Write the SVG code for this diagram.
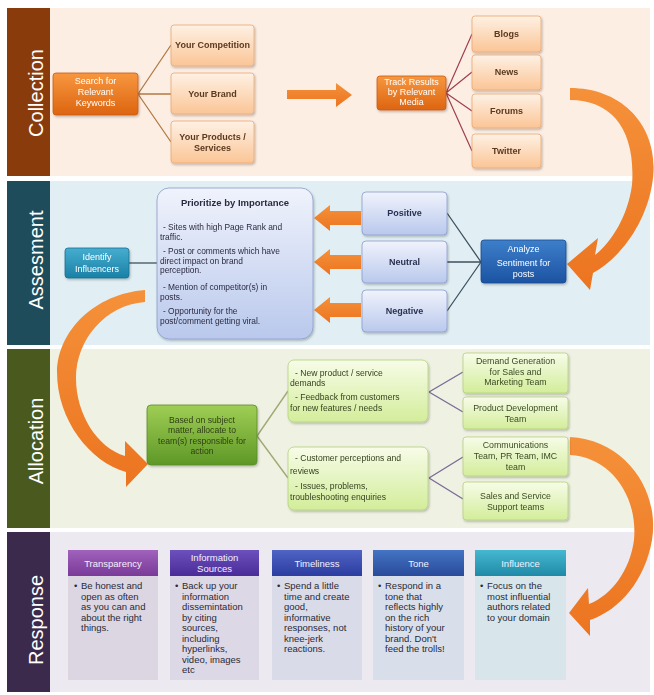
<svg xmlns="http://www.w3.org/2000/svg" width="654" height="695" viewBox="0 0 654 695">
<defs>
<linearGradient id="gOrange" x1="0" y1="0" x2="0" y2="1"><stop offset="0" stop-color="#f7973f"/><stop offset="1" stop-color="#dd6410"/></linearGradient>
<linearGradient id="gPeach" x1="0" y1="0" x2="0" y2="1"><stop offset="0" stop-color="#fef1e4"/><stop offset="1" stop-color="#fbc596"/></linearGradient>
<linearGradient id="gBlueL" x1="0" y1="0" x2="0" y2="1"><stop offset="0" stop-color="#f0f3fc"/><stop offset="1" stop-color="#b9c8ec"/></linearGradient>
<linearGradient id="gBlueD" x1="0" y1="0" x2="0" y2="1"><stop offset="0" stop-color="#3d7fca"/><stop offset="1" stop-color="#1c53a2"/></linearGradient>
<linearGradient id="gTeal" x1="0" y1="0" x2="0" y2="1"><stop offset="0" stop-color="#45aed0"/><stop offset="1" stop-color="#1a80a6"/></linearGradient>
<linearGradient id="gGreen" x1="0" y1="0" x2="0" y2="1"><stop offset="0" stop-color="#9fce55"/><stop offset="1" stop-color="#5e9826"/></linearGradient>
<linearGradient id="gGreenL" x1="0" y1="0" x2="0" y2="1"><stop offset="0" stop-color="#f7fce8"/><stop offset="1" stop-color="#d3ed9a"/></linearGradient>
<linearGradient id="gArrow" x1="0" y1="0" x2="0" y2="1"><stop offset="0" stop-color="#f5913a"/><stop offset="1" stop-color="#ec7420"/></linearGradient>
<linearGradient id="hTr" x1="0" y1="0" x2="0" y2="1"><stop offset="0" stop-color="#a062bc"/><stop offset="1" stop-color="#7a3a98"/></linearGradient>
<linearGradient id="hIn" x1="0" y1="0" x2="0" y2="1"><stop offset="0" stop-color="#6c50bc"/><stop offset="1" stop-color="#4a2c98"/></linearGradient>
<linearGradient id="hTi" x1="0" y1="0" x2="0" y2="1"><stop offset="0" stop-color="#4f64c4"/><stop offset="1" stop-color="#2c3ca0"/></linearGradient>
<linearGradient id="hTo" x1="0" y1="0" x2="0" y2="1"><stop offset="0" stop-color="#4474c4"/><stop offset="1" stop-color="#2a4a9a"/></linearGradient>
<linearGradient id="hIf" x1="0" y1="0" x2="0" y2="1"><stop offset="0" stop-color="#46b8d0"/><stop offset="1" stop-color="#1f8aa8"/></linearGradient>
<filter id="sh" x="-10%" y="-10%" width="125%" height="130%"><feDropShadow dx="1" dy="1.5" stdDeviation="1" flood-color="#000" flood-opacity="0.25"/></filter>
<style>
text{font-family:"Liberation Sans",Arial,sans-serif}
.side{font-size:20px;fill:#ffffff;text-anchor:middle}
.wt{fill:#ffffff;font-size:9px;text-anchor:middle}
.pk{fill:#5a3a20;font-size:9px;font-weight:bold;text-anchor:middle}
.bt{fill:#2a2a40;font-size:8.4px}
.bl{fill:#2a3050;font-size:9px;font-weight:bold;text-anchor:middle}
.gt{fill:#2f3f14;font-size:8.6px;text-anchor:middle}
.lg{fill:#34401f;font-size:8.6px}
.lgc{fill:#3a4a22;font-size:8.8px;text-anchor:middle}
.rh{fill:#f4f0ff;font-size:9.5px;text-anchor:middle}
.rb{fill:#2a2a38;font-size:9.5px}
.peach{fill:url(#gPeach);stroke:#eaa872;stroke-width:0.8}
.org{fill:url(#gOrange);stroke:#c95a12;stroke-width:0.8}
.lb{fill:url(#gBlueL);stroke:#8a9ccc;stroke-width:0.8}
.lgb{fill:url(#gGreenL);stroke:#b2d27c;stroke-width:0.8}
.arr{fill:url(#gArrow)}
.c1{stroke:#b37a44;stroke-width:1.3;fill:none}
.c2{stroke:#a0404e;stroke-width:1.2;fill:none}
.c3{stroke:#3e5260;stroke-width:1.3;fill:none}
.c4{stroke:#a3a874;stroke-width:1.4;fill:none}
.c5{stroke:#7c6c98;stroke-width:1.4;fill:none}
</style>
</defs>
<rect x="0" y="0" width="654" height="695" fill="#ffffff"/>
<g id="bands">
<rect x="50" y="8" width="600" height="168" fill="#fdeee3"/>
<rect x="7" y="8" width="43" height="168" fill="#8a3b0b"/>
<rect x="50" y="181" width="600" height="164" fill="#e1eff4"/>
<rect x="7" y="181" width="43" height="164" fill="#1e4c5b"/>
<rect x="50" y="349" width="600" height="179" fill="#eff2e3"/>
<rect x="7" y="349" width="43" height="179" fill="#4a5a1f"/>
<rect x="50" y="532" width="600" height="160" fill="#ece9f0"/>
<rect x="7" y="532" width="43" height="160" fill="#3b2a4b"/>
<text class="side" transform="translate(43,93) rotate(-90)">Collection</text>
<text class="side" transform="translate(43,260) rotate(-90)">Assesment</text>
<text class="side" transform="translate(43,441) rotate(-90)">Allocation</text>
<text class="side" transform="translate(43,620) rotate(-90)">Response</text>
</g>
<g id="connectors">
<path class="c1" d="M138,94 L171,45 M138,94 L171,94 M138,94 L171,142"/>
<path class="c2" d="M446,93 L472,34 M446,93 L472,72 M446,93 L472,111 M446,93 L472,151"/>
<path class="c3" d="M129,263 L157,263"/>
<path class="c3" d="M481,262 L447,213 M481,262 L447,262 M481,262 L447,311"/>
<path class="c4" d="M257,436 L288,391 M257,436 L288,478"/>
<path class="c5" d="M429,392 L463,372 M429,392 L463,412 M429,478 L463,457 M429,478 L463,499"/>
<path class="arr" d="M287,90 H336 V83 L352,95 L336,107 V99 H287 Z"/>
<path class="arr" d="M361,211 H330 V205 L314,218 L330,231 V225 H361 Z"/>
<path class="arr" d="M361,255 H330 V249 L314,262 L330,275 V269 H361 Z"/>
<path class="arr" d="M361,303 H330 V297 L314,310 L330,323 V317 H361 Z"/>
<path class="arr" d="M570,88 C625,88 662,130 652,185 C645,225 620,258 593,273 L590,290 L567,264 L598,238 L595,255 C612,242 628,215 632,185 C636,130 612,100 570,100 Z"/>
<path class="arr" d="M145,290 C95,294 58,330 57,372 C57,420 90,462 126,472 L126,487 L148,464 L125,441 L125,456 C98,448 76,415 76,378 C76,340 105,305 145,302 Z"/>
<path class="arr" d="M570,437 C625,440 660,490 652,540 C645,580 620,610 590,620 L590,636 L569,613 L588,588 L589,604 C612,595 630,570 634,540 C638,495 610,457 570,455 Z"/>
</g>
<g id="search" filter="url(#sh)"><rect class="org" x="53" y="73" width="85" height="42" rx="3"/>
<text class="wt" x="95.5" y="84">Search for</text><text class="wt" x="95.5" y="95">Relevant</text><text class="wt" x="95.5" y="106">Keywords</text></g>
<g id="competition" filter="url(#sh)"><rect class="peach" x="171" y="25" width="83" height="41" rx="3"/><text class="pk" x="212.5" y="48">Your Competition</text></g>
<g id="brand" filter="url(#sh)"><rect class="peach" x="171" y="73" width="83" height="41" rx="3"/><text class="pk" x="212.5" y="97">Your Brand</text></g>
<g id="products" filter="url(#sh)"><rect class="peach" x="171" y="121" width="83" height="42" rx="3"/><text class="pk" x="212.5" y="140">Your Products /</text><text class="pk" x="212.5" y="151">Services</text></g>
<g id="track" filter="url(#sh)"><rect class="org" x="377" y="76" width="69" height="34" rx="3"/>
<text class="wt" x="411.5" y="85">Track Results</text><text class="wt" x="411.5" y="95">by Relevant</text><text class="wt" x="411.5" y="105">Media</text></g>
<g id="blogs" filter="url(#sh)"><rect class="peach" x="472" y="16" width="69" height="36" rx="3"/><text class="pk" x="506.5" y="37">Blogs</text></g>
<g id="news" filter="url(#sh)"><rect class="peach" x="472" y="55" width="69" height="35" rx="3"/><text class="pk" x="506.5" y="75">News</text></g>
<g id="forums" filter="url(#sh)"><rect class="peach" x="472" y="94" width="69" height="34" rx="3"/><text class="pk" x="506.5" y="114">Forums</text></g>
<g id="twitter" filter="url(#sh)"><rect class="peach" x="472" y="134" width="69" height="34" rx="3"/><text class="pk" x="506.5" y="154">Twitter</text></g>
<g id="identify" filter="url(#sh)"><rect x="65" y="248" width="64" height="30" rx="3" fill="url(#gTeal)" stroke="#187090" stroke-width="0.8"/>
<text class="wt" x="97" y="260">Identify</text><text class="wt" x="97" y="272">Influencers</text></g>
<g id="prioritize" filter="url(#sh)"><rect class="lb" x="157" y="188" width="156" height="151" rx="12"/>
<text x="235" y="206" style="font-size:9.5px;font-weight:bold;fill:#2a2a40;text-anchor:middle">Prioritize by Importance</text>
<text class="bt" x="163" y="230">- Sites with high Page Rank and</text>
<text class="bt" x="160" y="239.5">traffic.</text>
<text class="bt" x="163" y="254">- Post or comments which have</text>
<text class="bt" x="160" y="263.5">direct impact on brand</text>
<text class="bt" x="160" y="273">perception.</text>
<text class="bt" x="163" y="290">- Mention of competitor(s) in</text>
<text class="bt" x="160" y="299.5">posts.</text>
<text class="bt" x="163" y="314">- Opportunity for the</text>
<text class="bt" x="160" y="323.5">post/comment getting viral.</text></g>
<g id="positive" filter="url(#sh)"><rect class="lb" x="362" y="192" width="85" height="43" rx="4"/><text class="bl" x="404.5" y="216">Positive</text></g>
<g id="neutral" filter="url(#sh)"><rect class="lb" x="362" y="241" width="85" height="42" rx="4"/><text class="bl" x="404.5" y="265">Neutral</text></g>
<g id="negative" filter="url(#sh)"><rect class="lb" x="362" y="290" width="85" height="42" rx="4"/><text class="bl" x="404.5" y="314">Negative</text></g>
<g id="analyze" filter="url(#sh)"><rect x="481" y="240" width="85" height="43" rx="3" fill="url(#gBlueD)" stroke="#174a90" stroke-width="0.8"/>
<text class="wt" x="523.5" y="252">Analyze</text><text class="wt" x="523.5" y="266">Sentiment for</text><text class="wt" x="523.5" y="277">posts</text></g>
<g id="based" filter="url(#sh)"><rect x="147" y="405" width="110" height="60" rx="4" fill="url(#gGreen)" stroke="#5a8a26" stroke-width="0.8"/>
<text class="gt" x="202" y="423">Based on subject</text><text class="gt" x="202" y="433">matter, allocate to</text><text class="gt" x="202" y="444">team(s) responsible for</text><text class="gt" x="202" y="454">action</text></g>
<g id="productlist" filter="url(#sh)"><rect class="lgb" x="288" y="360" width="140" height="62" rx="6"/>
<text class="lg" x="295" y="376">- New product / service</text><text class="lg" x="290" y="385.5">demands</text>
<text class="lg" x="295" y="400">- Feedback from customers</text><text class="lg" x="290" y="411">for new features / needs</text></g>
<g id="perceptionlist" filter="url(#sh)"><rect class="lgb" x="288" y="447" width="140" height="63" rx="6"/>
<text class="lg" x="295" y="461">- Customer perceptions and</text><text class="lg" x="290" y="474">reviews</text>
<text class="lg" x="295" y="489">-  Issues, problems,</text><text class="lg" x="290" y="499.5">troubleshooting enquiries</text></g>
<g id="demandgen" filter="url(#sh)"><rect class="lgb" x="463" y="353" width="105" height="40" rx="3"/>
<text class="lgc" x="515.5" y="364">Demand Generation</text><text class="lgc" x="515.5" y="374.5">for Sales and</text><text class="lgc" x="515.5" y="385">Marketing Team</text></g>
<g id="productdev" filter="url(#sh)"><rect class="lgb" x="463" y="397" width="105" height="32" rx="3"/>
<text class="lgc" x="515.5" y="411">Product Development</text><text class="lgc" x="515.5" y="422">Team</text></g>
<g id="comms" filter="url(#sh)"><rect class="lgb" x="463" y="437" width="105" height="39" rx="3"/>
<text class="lgc" x="515.5" y="448">Communications</text><text class="lgc" x="515.5" y="459">Team, PR Team, IMC</text><text class="lgc" x="515.5" y="470">team</text></g>
<g id="salesservice" filter="url(#sh)"><rect class="lgb" x="463" y="482" width="105" height="38" rx="3"/>
<text class="lgc" x="515.5" y="499">Sales and Service</text><text class="lgc" x="515.5" y="510">Support teams</text></g>
<g id="transparency"><rect x="68" y="550" width="90" height="26" fill="url(#hTr)"/><rect x="68" y="576" width="90" height="104" fill="#dbd6e2"/>
<text class="rh" x="113" y="567">Transparency</text>
<text class="rb" x="74" y="589">•</text>
<text class="rb" x="81" y="589">Be honest and</text><text class="rb" x="81" y="599.5">open as often</text><text class="rb" x="81" y="610">as you can and</text><text class="rb" x="81" y="620.5">about the right</text><text class="rb" x="81" y="631">things.</text></g>
<g id="infosources"><rect x="170" y="550" width="89" height="26" fill="url(#hIn)"/><rect x="170" y="576" width="89" height="104" fill="#dcd8e6"/>
<text class="rh" x="214.5" y="561">Information</text><text class="rh" x="214.5" y="572">Sources</text>
<text class="rb" x="175" y="589">•</text>
<text class="rb" x="182" y="589">Back up your</text><text class="rb" x="182" y="599.5">information</text><text class="rb" x="182" y="610">dissemintation</text><text class="rb" x="182" y="620.5">by citing</text><text class="rb" x="182" y="631">sources,</text><text class="rb" x="182" y="641.5">including</text><text class="rb" x="182" y="652">hyperlinks,</text><text class="rb" x="182" y="662.5">video, images</text><text class="rb" x="182" y="673">etc</text></g>
<g id="timeliness"><rect x="272" y="550" width="90" height="26" fill="url(#hTi)"/><rect x="272" y="576" width="90" height="104" fill="#d9dbe8"/>
<text class="rh" x="317" y="567">Timeliness</text>
<text class="rb" x="277" y="589">•</text>
<text class="rb" x="284" y="589">Spend a little</text><text class="rb" x="284" y="599.5">time and create</text><text class="rb" x="284" y="610">good,</text><text class="rb" x="284" y="620.5">informative</text><text class="rb" x="284" y="631">responses, not</text><text class="rb" x="284" y="641.5">knee-jerk</text><text class="rb" x="284" y="652">reactions.</text></g>
<g id="tone"><rect x="373" y="550" width="91" height="26" fill="url(#hTo)"/><rect x="373" y="576" width="91" height="104" fill="#d8dfea"/>
<text class="rh" x="418.5" y="567">Tone</text>
<text class="rb" x="378" y="589">•</text>
<text class="rb" x="385" y="589">Respond in a</text><text class="rb" x="385" y="599.5">tone that</text><text class="rb" x="385" y="610">reflects highly</text><text class="rb" x="385" y="620.5">on the rich</text><text class="rb" x="385" y="631">history of your</text><text class="rb" x="385" y="641.5">brand. Don't</text><text class="rb" x="385" y="652">feed the trolls!</text></g>
<g id="influence"><rect x="475" y="550" width="91" height="26" fill="url(#hIf)"/><rect x="475" y="576" width="91" height="104" fill="#d8e6eb"/>
<text class="rh" x="520.5" y="567">Influence</text>
<text class="rb" x="480" y="589">•</text>
<text class="rb" x="487" y="589">Focus on the</text><text class="rb" x="487" y="599.5">most influential</text><text class="rb" x="487" y="610">authors related</text><text class="rb" x="487" y="620.5">to your domain</text></g>
</svg>
